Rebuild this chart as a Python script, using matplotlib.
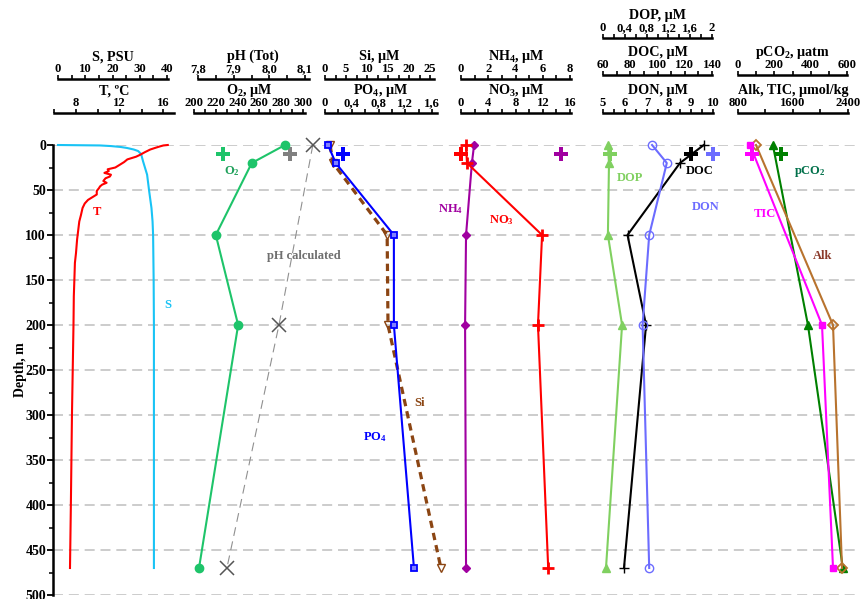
import numpy as np
import matplotlib
matplotlib.use('Agg')
import matplotlib.pyplot as plt
from matplotlib.ticker import MultipleLocator

plt.rcParams['font.family'] = ['Liberation Serif', 'DejaVu Serif']
plt.rcParams['font.weight'] = 'bold'
plt.rcParams['mathtext.fontset'] = 'custom'
plt.rcParams['mathtext.rm'] = 'Liberation Serif:bold'
plt.rcParams['mathtext.it'] = 'Liberation Serif:bold'
plt.rcParams['mathtext.bf'] = 'Liberation Serif:bold'

# ---- data ----
# CTD profiles
t_depth = [0, 0.5, 1.5, 3, 5, 8, 10.7, 13, 16, 19, 22, 25, 27, 29, 31, 33, 35, 37, 40, 42,
           44, 46, 48, 51, 55, 58, 61, 65, 70, 78, 85, 95, 105, 120, 131, 150, 168, 200,
           250, 300, 350, 400, 470]
temp = [16.4, 16.0, 15.7, 15.3, 14.8, 14.3, 13.9, 13.5, 12.7, 12.4, 12.0, 11.6, 10.9, 11.0,
        10.6, 11.2, 11.1, 10.7, 10.5, 10.8, 10.4, 10.2, 10.1, 9.9, 9.9, 9.5, 9.1, 8.8, 8.6,
        8.45, 8.3, 8.2, 8.1, 8.0, 7.9, 7.85, 7.8, 7.77, 7.7, 7.63, 7.58, 7.53, 7.45]
s_depth = [0, 0.2, 0.5, 1.2, 2.2, 3.3, 5, 6.7, 10, 18, 33, 50, 59, 70, 85, 100, 150, 200, 300, 470]
sal = [0, 6, 15.4, 19.5, 23, 25.3, 27.8, 29.4, 30.5, 31.2, 32.7, 33.4, 33.8, 34.3, 34.7,
       34.9, 35.1, 35.2, 35.2, 35.2]

# bottle samples
depth = [0, 20, 100, 200, 470]
o2 = [283.5, 253, 220, 240.5, 204.6]
si = [1.2, 1.9, 14.8, 15.0, 27.6]
po4 = [0.045, 0.16, 1.03, 1.03, 1.33]
nh4 = [0.96, 0.8, 0.37, 0.3, 0.37]
no3 = [0.73, 0.88, 11.9, 11.3, 12.8]
dop = [0.09, 0.11, 0.09, 0.35, 0.055]
doc = [134, 116.5, 78, 91.6, 75.4]
don = [7.23, 7.9, 7.1, 6.8, 7.1]

# carbonate system
depth_c = [0, 200, 470]
ph_calc = [8.122, 8.027, 7.881]
tic = [975, 2022, 2182]
alk = [1062, 2182, 2313]
pco2 = [192, 385, 577]

# big crosses at 10 m
depth_plus = 10
plus_vals = {'o2': 226.6, 'ph': 8.058, 'po4': 0.27, 'nh4': 7.35, 'no3': 0.05,
             'dop': 0.13, 'doc': 124.6, 'don': 10.0, 'tic': 1004, 'pco2': 236}

# ---- layout (pixels of the 861x599 picture) ----
W, H = 861, 599
X0, X1 = 53, 860      # plot area left / right
Y0, Y1 = 145, 595     # depth 0 / depth 500

fig = plt.figure(figsize=(W / 100, H / 100), dpi=100)
ax = fig.add_axes([X0 / W, 1 - Y1 / H, (X1 - X0) / W, (Y1 - Y0) / H])
ax.set_ylim(500, 0)
ax.set_xticks([])
for s in ['top', 'right', 'bottom']:
    ax.spines[s].set_visible(False)
ax.spines['left'].set_linewidth(1.8)
ax.yaxis.set_major_locator(MultipleLocator(50))
ax.yaxis.set_minor_locator(MultipleLocator(25))
ax.tick_params(axis='y', which='major', length=4, width=1.3, labelsize=10, pad=1)
ax.tick_params(axis='y', which='minor', length=3, width=1.1)
ax.yaxis.grid(True, ls=(0, (6, 3.5)), color='#c4c4c4', lw=1.2)
ax.set_axisbelow(True)
ax.set_ylabel('Depth, m', fontsize=10, fontweight='bold', labelpad=-1)


def scale(title, pa, va, pb, vb, lim, yline, major, labels, minor):
    # ruler on top
    k = (vb - va) / (pb - pa)
    xa = pa + (lim[0] - va) / k
    xb = pa + (lim[1] - va) / k
    r = fig.add_axes([xa / W, 1 - yline / H, (xb - xa) / W, 0.0001])
    r.set_xlim(lim)
    r.set_yticks([])
    r.patch.set_visible(False)
    for s in ['bottom', 'left', 'right']:
        r.spines[s].set_visible(False)
    r.spines['top'].set_linewidth(1.8)
    r.xaxis.tick_top()
    r.xaxis.set_label_position('top')
    r.set_xticks(major)
    if labels is not None:
        r.set_xticklabels(labels)
    r.xaxis.set_minor_locator(MultipleLocator(minor))
    r.tick_params(axis='x', which='both', direction='out', length=3, width=1.2,
                  pad=-0.5, labelsize=9.1)
    r.set_xlabel(title, fontsize=10.2, fontweight='bold', labelpad=2.4)
    # data axes sharing depth
    a = ax.twiny()
    a.set_xlim(va + (X0 - pa) * k, va + (X1 - pa) * k)
    a.axis('off')
    return a


a_s = scale('S, PSU', 58, 0, 167, 40, (0, 40.3), 79, [0, 10, 20, 30, 40], None, 5)
a_t = scale('T, ºC', 76, 8, 163.4, 16, (6, 17), 113, [8, 12, 16], None, 2)
a_ph = scale('pH (Tot)', 198, 7.8, 305, 8.1, (7.8, 8.11), 79, [7.8, 7.9, 8.0, 8.1],
             ['7,8', '7,9', '8,0', '8,1'], 0.05)
a_o2 = scale('O$_2$, μM', 194, 200, 303, 300, (200, 302), 113, list(range(200, 301, 20)), None, 10)
a_si = scale('Si, μM', 325, 0, 430, 25, (0, 26), 79, [0, 5, 10, 15, 20, 25], None, 2.5)
a_po4 = scale('PO$_4$, μM', 325, 0, 432, 1.6, (0, 1.67), 113, [0, 0.4, 0.8, 1.2, 1.6],
              ['0', '0,4', '0,8', '1,2', '1,6'], 0.2)
a_nh4 = scale('NH$_4$, μM', 461, 0, 570, 8, (0, 8.1), 79, [0, 2, 4, 6, 8], None, 1)
a_no3 = scale('NO$_3$, μM', 461, 0, 570, 16, (0, 16.2), 113, [0, 4, 8, 12, 16], None, 2)
a_dop = scale('DOP, μM', 603, 0, 712, 2, (0, 2), 38, [0, 0.4, 0.8, 1.2, 1.6, 2],
              ['0', '0,4', '0,8', '1,2', '1,6', '2'], 0.2)
a_doc = scale('DOC, μM', 603, 60, 712, 140, (60, 140), 75, [60, 80, 100, 120, 140], None, 10)
a_don = scale('DON, μM', 603, 5, 713, 10, (5, 10), 113, [5, 6, 7, 8, 9, 10], None, 0.5)
a_pco2 = scale('pCO$_2$, μatm', 738, 0, 847, 600, (0, 600), 75, [0, 200, 400, 600], None, 100)
a_alk = scale('Alk, TIC, μmol/kg', 738, 800, 848, 2400, (800, 2400), 113, [800, 1600, 2400], None, 400)

kw = dict(clip_on=False, lw=1.5)

a_t.plot(temp, t_depth, color='red', **kw)
a_s.plot(sal, s_depth, color='#19c3f5', **kw)

a_o2.plot(o2, depth, color='#1ec46a', marker='o', ms=6, **kw)
a_ph.plot(ph_calc, depth_c, color='#909090', lw=0.8, ls=(0, (8, 5)), clip_on=False)
a_ph.plot(ph_calc, depth_c, ls='none', marker='x', ms=10, mew=1.1, color='#555555', clip_on=False)
a_si.plot(si, depth, color='#8b4513', lw=2.3, ls=(0, (2.3, 1.6)), marker='v', ms=6,
          mfc='none', mew=1, clip_on=False)
a_po4.plot(po4, depth, color='#0000ff', marker='s', ms=5, mfc='#8080ff', mew=1.3, **kw)
a_nh4.plot(nh4, depth, color='#a000a0', marker='D', ms=4, **kw)
a_no3.plot(no3, depth, color='#ff0000', marker='+', ms=9, mew=2, **kw)
a_dop.plot(dop, depth, color='#80d060', marker='^', ms=6, **kw)
a_doc.plot(doc, depth, color='black', marker='+', ms=7, mew=1, **kw)
a_don.plot(don, depth, color='#6c6cff', marker='o', ms=6, mfc='none', mew=1, **kw)
a_alk.plot(alk, depth_c, color='#b8732e', marker='D', ms=5, mfc='none', mew=1.3, **kw)
a_alk.plot(tic, depth_c, color='#ff00ff', marker='s', ms=5, **kw)
a_pco2.plot(pco2, depth_c, color='#008000', marker='^', ms=6, **kw)

# big crosses
pk = dict(marker='P', ms=10.5, ls='none', mew=0, clip_on=False)
a_o2.plot(plus_vals['o2'], depth_plus, color='#1ec46a', **pk)
a_ph.plot(plus_vals['ph'], depth_plus, color='#808080', **pk)
a_po4.plot(plus_vals['po4'], depth_plus, color='#0000ff', **pk)
a_nh4.plot(plus_vals['nh4'], depth_plus, color='#a000a0', **pk)
a_no3.plot(plus_vals['no3'], depth_plus, color='#ff0000', **pk)
a_dop.plot(plus_vals['dop'], depth_plus, color='#80d060', **pk)
a_doc.plot(plus_vals['doc'], depth_plus, color='black', **pk)
a_don.plot(plus_vals['don'], depth_plus, color='#6c6cff', **pk)
a_alk.plot(plus_vals['tic'], depth_plus, color='#ff00ff', **pk)
a_pco2.plot(plus_vals['pco2'], depth_plus, color='#008000', **pk)

# series labels
lk = dict(fontsize=9, fontweight='bold', ha='center', va='center')
a_t.text(9.9, 74, 'T', color='red', **lk)
a_s.text(40.4, 178, 'S', color='#19c3f5', **lk)
a_o2.text(234.9, 29, 'O$_2$', color='#1ea05a', **lk)
a_ph.text(8.097, 123, 'pH calculated', color='#707070', **lk)
a_si.text(22.6, 287, 'Si', color='#8b4513', **lk)
a_po4.text(0.746, 324, 'PO$_4$', color='#0000ff', **lk)
a_nh4.text(-0.8, 71, 'NH$_4$', color='#a000a0', **lk)
a_no3.text(6.0, 83, 'NO$_3$', color='#ff0000', **lk)
a_dop.text(0.495, 37, 'DOP', color='#80d060', **lk)
a_doc.text(131.2, 29, 'DOC', color='black', **lk)
a_don.text(9.68, 69, 'DON', color='#6c6cff', **lk)
a_alk.text(1193, 77, 'TIC', color='#ff00ff', **lk)
a_alk.text(2036, 123, 'Alk', color='#8b3a2a', **lk)
a_pco2.text(396, 29, 'pCO$_2$', color='#00704a', **lk)

fig.savefig('out.png', dpi=100)
plt.close()
